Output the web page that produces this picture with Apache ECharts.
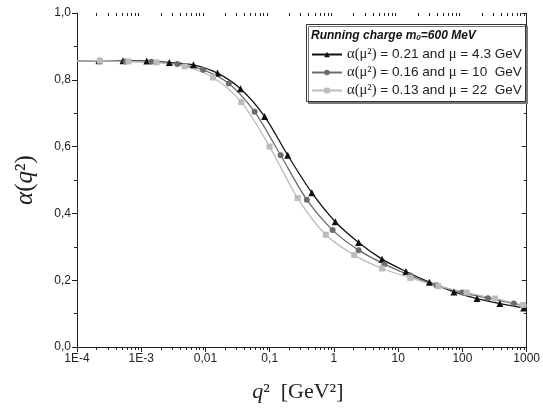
<!DOCTYPE html>
<html>
<head>
<meta charset="utf-8">
<script src="https://cdn.jsdelivr.net/npm/echarts@6/dist/echarts.min.js"></script>
<style>
  html, body { margin: 0; padding: 0; background: #fff; }
  #chart { width: 543px; height: 408px; }
</style>
</head>
<body>
<div id="chart"></div>
<script>
// Running coupling alpha(q^2) for three renormalisation choices
const seriesNames = [
  'α(μ²) = 0.21 and μ = 4.3 GeV',
  'α(μ²) = 0.16 and μ = 10  GeV',
  'α(μ²) = 0.13 and μ = 22  GeV'
];

const q2Black = [1e-4, 2.19e-4, 5.2e-4, 1.22e-3, 2.74e-3, 6.5e-3, 0.0154, 0.0351, 0.0834, 0.191, 0.452, 1.05, 2.42, 5.61, 13.2, 30.6, 73.8, 169, 383, 899, 1000];
const alphaBlack = [0.856, 0.857, 0.857, 0.856, 0.852, 0.845, 0.820, 0.773, 0.690, 0.574, 0.462, 0.375, 0.313, 0.263, 0.226, 0.194, 0.165, 0.145, 0.130, 0.117, 0.116];

const q2Gray = [1e-4, 2.27e-4, 5.71e-4, 1.44e-3, 3.64e-3, 9.18e-3, 0.0231, 0.0583, 0.148, 0.378, 0.953, 2.42, 6.11, 15.4, 39.3, 99.1, 250, 631, 1000];
const alphaGray = [0.856, 0.857, 0.855, 0.854, 0.847, 0.830, 0.789, 0.704, 0.574, 0.441, 0.350, 0.290, 0.248, 0.214, 0.185, 0.163, 0.146, 0.130, 0.121];

const q2Light = [1e-4, 2.27e-4, 6.32e-4, 1.73e-3, 4.76e-3, 0.0131, 0.0362, 0.0995, 0.272, 0.748, 2.07, 5.61, 15.4, 42.2, 116, 321, 883, 1000];
const alphaLight = [0.856, 0.857, 0.855, 0.852, 0.840, 0.807, 0.733, 0.600, 0.446, 0.336, 0.275, 0.235, 0.207, 0.182, 0.163, 0.145, 0.126, 0.125];

const xTickLabels = ['1E-4', '1E-3', '0,01', '0,1', '1', '10', '100', '1000'];
const yTickLabels = ['0,0', '0,2', '0,4', '0,6', '0,8', '1,0'];

// minor ticks of the logarithmic q^2 axis: 2..9 within each decade
const xMinorTicks = [];
for (let d = -4; d < 3; d++) {
  for (let k = 2; k <= 9; k++) xMinorTicks.push(k * Math.pow(10, d));
}

const AXIS = '#222';
const SANS = '"Liberation Sans", Arial, sans-serif';
const SERIF = '"Liberation Serif", "Times New Roman", serif';

// curve endpoints on the frame carry no marker
function pairs(xs, ys) {
  return xs.map((x, i) => {
    const item = { value: [x, ys[i]] };
    if (i === 0 || i === xs.length - 1) item.symbol = 'none';
    return item;
  });
}

function lineSeries(name, xs, ys, color, symbol, size) {
  return {
    name: name,
    type: 'line',
    data: pairs(xs, ys),
    smooth: 0.3,
    symbol: symbol,
    symbolSize: size,
    showAllSymbol: true,
    lineStyle: { color: color, width: 1.3 },
    itemStyle: { color: color },
    emphasis: { disabled: true },
    z: 3
  };
}

const chart = echarts.init(document.getElementById('chart'), null, { renderer: 'canvas' });

chart.setOption({
  animation: false,
  backgroundColor: '#fff',
  grid: { left: 77, right: 13, top: 13, bottom: 60, containLabel: false },
  xAxis: [
    {
      type: 'log', logBase: 10, min: 1e-4, max: 1000, position: 'bottom',
      axisLine: { show: true, lineStyle: { color: AXIS, width: 1 } },
      axisTick: { show: true, inside: false, length: 5, lineStyle: { color: AXIS } },
      axisLabel: {
        color: '#222', fontFamily: SANS, fontSize: 12, margin: 6,
        formatter: v => xTickLabels[Math.round(Math.log10(v)) + 4]
      },
      splitLine: { show: false },
      name: '{i|q}²  [GeV²]',
      nameLocation: 'middle',
      nameGap: 34,
      nameTextStyle: {
        fontFamily: SERIF, fontSize: 22, color: '#222', padding: [0, 8, 0, 0],
        rich: { i: { fontFamily: SERIF, fontStyle: 'italic', fontSize: 22, color: '#222' } }
      }
    },
    {
      type: 'log', logBase: 10, min: 1e-4, max: 1000, position: 'top',
      axisLine: { show: true, lineStyle: { color: AXIS, width: 1 } },
      axisTick: { show: true, inside: true, length: 5, lineStyle: { color: AXIS } },
      axisLabel: { show: false },
      splitLine: { show: false }
    }
  ],
  yAxis: [
    {
      type: 'value', min: 0, max: 1, interval: 0.2, position: 'left',
      axisLine: { show: true, lineStyle: { color: AXIS, width: 1 } },
      axisTick: { show: true, inside: false, length: 5, lineStyle: { color: AXIS } },
      minorTick: { show: true, splitNumber: 2, length: 3, lineStyle: { color: AXIS } },
      axisLabel: {
        color: '#222', fontFamily: SANS, fontSize: 12, margin: 6,
        formatter: v => yTickLabels[Math.round(v / 0.2)]
      },
      splitLine: { show: false },
      name: '{i|α}({i|q}²)',
      nameLocation: 'middle',
      nameGap: 39,
      nameTextStyle: {
        fontFamily: SERIF, fontSize: 25, color: '#222',
        rich: { i: { fontFamily: SERIF, fontStyle: 'italic', fontSize: 25, color: '#222' } }
      }
    },
    {
      type: 'value', min: 0, max: 1, interval: 0.2, position: 'right',
      axisLine: { show: true, lineStyle: { color: AXIS, width: 1 } },
      axisTick: { show: true, inside: true, length: 5, lineStyle: { color: AXIS } },
      minorTick: { show: true, splitNumber: 2, length: 3, lineStyle: { color: AXIS } },
      axisLabel: { show: false },
      splitLine: { show: false }
    }
  ],
  legend: {
    data: seriesNames,
    orient: 'vertical',
    left: 311,
    top: 47,
    itemWidth: 30,
    itemHeight: 7,
    itemGap: 3,
    padding: 0,
    selectedMode: false,
    z: 6,
    textStyle: {
      fontFamily: SANS, fontSize: 13.6, color: '#222',
      rich: { g: { fontFamily: SERIF, fontSize: 14.6, color: '#222' } }
    },
    formatter: name => name.replace('α(μ²)', '{g|α(μ²)}').replace(/μ =/, '{g|μ} =')
  },
  graphic: [
    {
      type: 'rect', z: 5, left: 306, top: 24,
      shape: { width: 219, height: 77 },
      style: { fill: '#fff', stroke: '#333', lineWidth: 1, shadowColor: '#777', shadowOffsetX: 2, shadowOffsetY: 2 }
    },
    {
      type: 'text', z: 6, left: 311, top: 28,
      style: {
        text: '{b|Running charge m}{s|0}{b|=600 MeV}',
        rich: {
          b: { fontFamily: SANS, fontSize: 12, fontWeight: 'bold', fontStyle: 'italic', fill: '#111', verticalAlign: 'bottom', lineHeight: 14 },
          s: { fontFamily: SANS, fontSize: 8, fontWeight: 'bold', fontStyle: 'italic', fill: '#111', verticalAlign: 'bottom', lineHeight: 14, padding: [6, 0, 0, 0] }
        }
      }
    }
  ],
  series: [
    lineSeries(seriesNames[0], q2Black, alphaBlack, '#111111', 'triangle', 7),
    lineSeries(seriesNames[1], q2Gray, alphaGray, '#6c6c6c', 'circle', 6),
    lineSeries(seriesNames[2], q2Light, alphaLight, '#bcbcbc', 'rect', 6),
    {
      type: 'custom',
      silent: true,
      xAxisIndex: 0,
      yAxisIndex: 0,
      z: 4,
      data: xMinorTicks.map(v => [v, 0]),
      renderItem: (params, api) => {
        const v = api.value(0);
        const b = api.coord([v, 0]);
        const t = api.coord([v, 1]);
        const x = Math.round(b[0]) + 0.5;
        return {
          type: 'group',
          children: [
            { type: 'line', shape: { x1: x, y1: b[1], x2: x, y2: b[1] + 3 }, style: { stroke: AXIS, lineWidth: 1 } },
            { type: 'line', shape: { x1: x, y1: t[1], x2: x, y2: t[1] + 3 }, style: { stroke: AXIS, lineWidth: 1 } }
          ]
        };
      }
    }
  ]
});
</script>
</body>
</html>
